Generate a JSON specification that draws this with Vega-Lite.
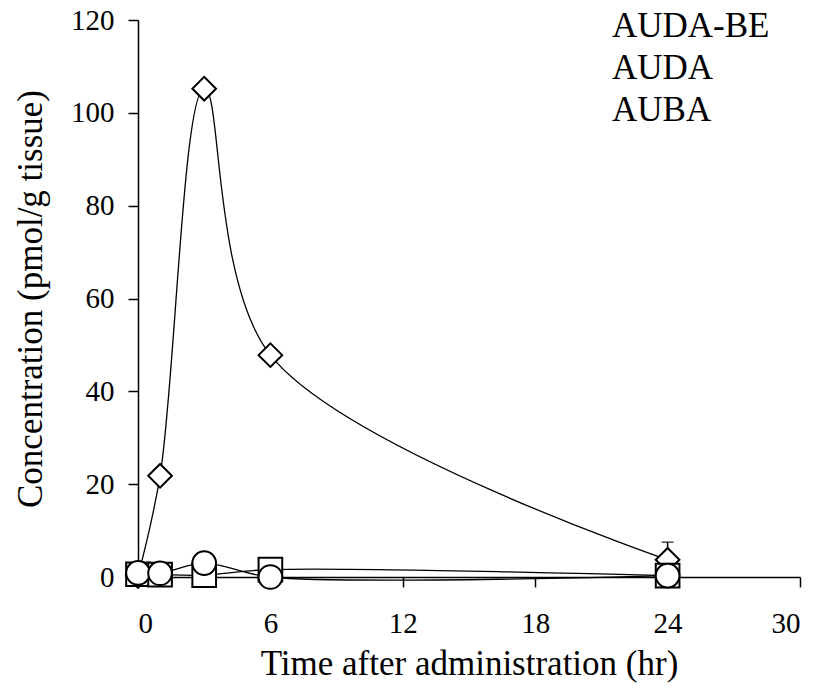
{
  "$schema": "https://vega.github.io/schema/vega-lite/v6.json",
  "width": 662,
  "height": 557,
  "autosize": "none",
  "padding": {"left": 138, "top": 20, "right": 20, "bottom": 111},
  "background": "white",
  "config": {
    "view": {"stroke": null},
    "font": "Liberation Serif",
    "axis": {
      "domainColor": "black", "domainWidth": 1.5, "tickColor": "black", "tickWidth": 1.5, "tickSize": 10,
      "labelColor": "black", "titleColor": "black", "labelFont": "Liberation Serif", "titleFont": "Liberation Serif",
      "labelFontSize": 29, "titleFontSize": 35, "titleFontWeight": "normal", "grid": false
    }
  },
  "datasets": {
    "pts": [
      {"series": "AUDA", "time": 0, "conc": 0.2},
      {"series": "AUDA", "time": 1, "conc": 21.8},
      {"series": "AUDA", "time": 3, "conc": 105.2},
      {"series": "AUDA", "time": 6, "conc": 47.8},
      {"series": "AUDA", "time": 24, "conc": 3.7},
      {"series": "AUDA-BE", "time": 0, "conc": 0.6},
      {"series": "AUDA-BE", "time": 1, "conc": 0.5},
      {"series": "AUDA-BE", "time": 3, "conc": 0.4},
      {"series": "AUDA-BE", "time": 6, "conc": 1.6},
      {"series": "AUDA-BE", "time": 24, "conc": 0.3},
      {"series": "AUBA", "time": 0, "conc": 0.9},
      {"series": "AUBA", "time": 1, "conc": 0.8},
      {"series": "AUBA", "time": 3, "conc": 3.0},
      {"series": "AUBA", "time": 6, "conc": 0.0},
      {"series": "AUBA", "time": 24, "conc": 0.3}
    ],
    "err": [
      {"series": "AUDA", "time": 24, "conc": 3.7, "upper": 7.5}
    ]
  },
  "encoding": {
    "x": {
      "field": "time", "type": "quantitative",
      "scale": {"domain": [0, 30], "nice": false, "zero": true},
      "axis": {"values": [0, 6, 12, 18, 24, 30], "title": "Time after administration (hr)", "labelPadding": 22, "titlePadding": 8}
    },
    "y": {
      "field": "conc", "type": "quantitative",
      "scale": {"domain": [0, 120], "nice": false},
      "axis": {"values": [0, 20, 40, 60, 80, 100, 120], "title": "Concentration (pmol/g tissue)", "labelPadding": 14, "titlePadding": 22}
    }
  },
  "layer": [
    {
      "data": {"name": "pts"},
      "mark": {"type": "line", "interpolate": "catmull-rom", "color": "black", "strokeWidth": 1.3},
      "encoding": {"detail": {"field": "series", "type": "nominal"}}
    },
    {
      "data": {"name": "err"},
      "mark": {"type": "rule", "color": "black", "strokeWidth": 1.5},
      "encoding": {"y2": {"field": "upper"}}
    },
    {
      "data": {"name": "err"},
      "mark": {"type": "tick", "color": "black", "thickness": 1.5, "size": 12, "orient": "horizontal"},
      "encoding": {"y": {"field": "upper", "type": "quantitative"}}
    },
    {
      "data": {"name": "pts"},
      "mark": {"type": "point", "filled": false, "color": "black", "fill": "white", "fillOpacity": 1, "strokeWidth": 2, "opacity": 1, "size": 560},
      "encoding": {
        "shape": {
          "field": "series", "type": "nominal",
          "scale": {
            "domain": ["AUDA-BE", "AUDA", "AUBA"],
            "range": ["square", "diamond", "circle"]
          },
          "legend": {
            "title": null, "orient": "none", "legendX": 429, "legendY": -12,
            "labelFont": "Liberation Serif", "labelFontSize": 35, "labelColor": "black",
            "symbolSize": 600, "symbolStrokeWidth": 2, "symbolStrokeColor": "black", "symbolFillColor": "white", "symbolOpacity": 1,
            "rowPadding": 6, "labelOffset": 10
          }
        }
      }
    }
  ]
}
